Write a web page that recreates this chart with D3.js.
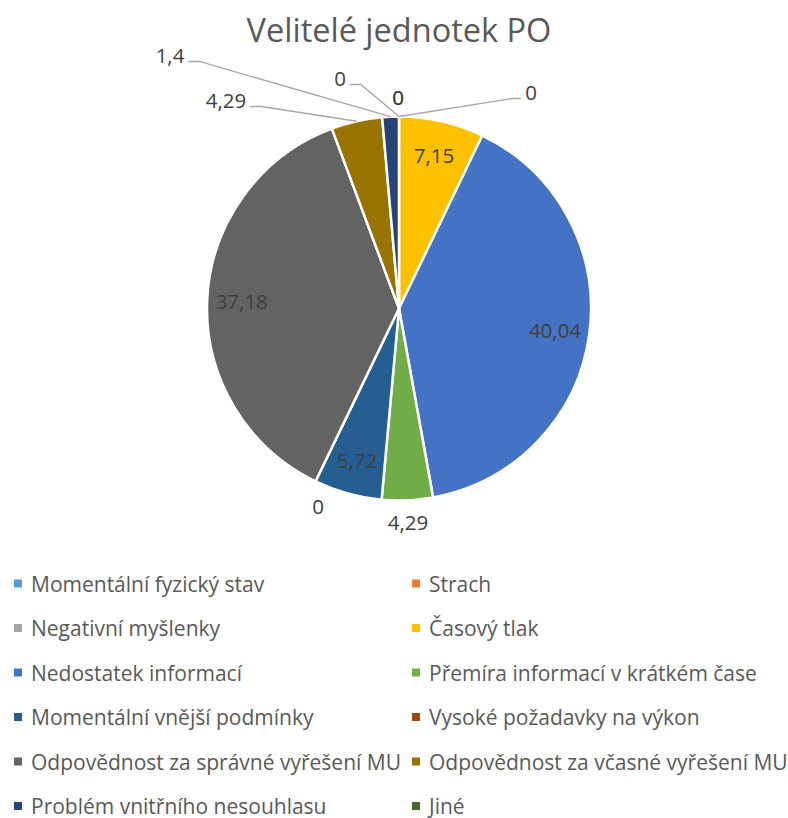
<!DOCTYPE html>
<html><head><meta charset="utf-8">
<script src="https://cdn.jsdelivr.net/npm/d3@7"></script>
<style>
html,body{margin:0;padding:0;background:#fff;}
svg{display:block;font-family:"Open Sans",sans-serif;}
</style></head>
<body>
<svg id="c" width="788" height="818"></svg>
<script>
const title = "Velitelé jednotek PO";
const categories = [
  "Momentální fyzický stav","Strach","Negativní myšlenky","Časový tlak",
  "Nedostatek informací","Přemíra informací v krátkém čase","Momentální vnější podmínky",
  "Vysoké požadavky na výkon","Odpovědnost za správné vyřešení MU",
  "Odpovědnost za včasné vyřešení MU","Problém vnitřního nesouhlasu","Jiné"
];
const values = [0,0,0,7.15,40.04,4.29,5.72,0,37.18,4.29,1.4,0];
const colors = ["#5B9BD5","#ED7D31","#A5A5A5","#FFC000","#4472C4","#70AD47",
                "#255E91","#9E480E","#636363","#997300","#264478","#43682B"];

// label layout (style config): null = inside at centroid; otherwise offset from pie centre
const labelLayout = [
  {dx:-1, dy:-212},
  {dx:132, dy:-217, leader:true, side:"right"},
  {dx:-1, dy:-212},
  null, null,
  {dx:9, dy:213},
  null,
  {dx:-81, dy:197},
  null,
  {dx:-173, dy:-209, leader:true, side:"left"},
  {dx:-229, dy:-254, leader:true, side:"left"},
  {dx:-59, dy:-231, leader:true, side:"left"}
];

const svg = d3.select("#c");
const cx = 399, cy = 308.5, R = 192;

svg.append("text").attr("x", 399).attr("y", 42).attr("text-anchor","middle")
  .attr("font-size", 32.5).attr("fill","#595959").text(title);

const pie = d3.pie().sort(null).value(d => d).startAngle(0).endAngle(2*Math.PI);
const arcs = pie(values);
const arc = d3.arc().innerRadius(0).outerRadius(R);
const g = svg.append("g").attr("transform", `translate(${cx},${cy})`);

g.selectAll("path.slice").data(arcs).join("path").attr("class","slice")
  .attr("d", arc).attr("fill", (d,i) => colors[i])
  .attr("stroke", "#fff").attr("stroke-width", d => d.value > 0 ? 2.5 : 0)
  .attr("stroke-linejoin","round");

const fmt = v => String(v).replace(".", ",");

arcs.forEach((d,i) => {
  const L = labelLayout[i];
  let x, y;
  if (!L) {
    const c = d3.arc().innerRadius(R*0.82).outerRadius(R*0.82).centroid(d);
    x = c[0]; y = c[1];
  } else {
    x = L.dx; y = L.dy;
  }
  const t = g.append("text").attr("x", x).attr("y", y).attr("text-anchor","middle")
    .attr("dominant-baseline","central").attr("font-size", 20.5).attr("fill","#404040")
    .text(fmt(values[i]));
  if (L && L.leader) {
    const w = t.node().getComputedTextLength();
    const mid = (d.startAngle + d.endAngle)/2;
    const px = R*Math.sin(mid), py = -R*Math.cos(mid);
    const ly = y + 7;
    const sx = L.side === "left" ? x + w/2 + 4 : x - w/2 - 4;
    const ex = L.side === "left" ? sx + 11 : sx - 9;
    g.append("path").attr("d", `M${sx},${ly}L${ex},${ly}L${px},${py}`)
      .attr("fill","none").attr("stroke","#A6A6A6").attr("stroke-width",1.3);
  }
});

// legend
const legX = [14, 412], legY0 = 583.5, legDy = 44.5;
const leg = svg.append("g");
categories.forEach((c,i) => {
  const col = i % 2, row = Math.floor(i/2);
  const y = legY0 + row*legDy;
  leg.append("rect").attr("x", legX[col]).attr("y", y-4).attr("width",8).attr("height",8)
    .attr("fill", colors[i]);
  leg.append("text").attr("x", legX[col]+17).attr("y", y).attr("dominant-baseline","central")
    .attr("font-size", 21).attr("fill","#595959").text(c);
});
</script>
</body></html>
